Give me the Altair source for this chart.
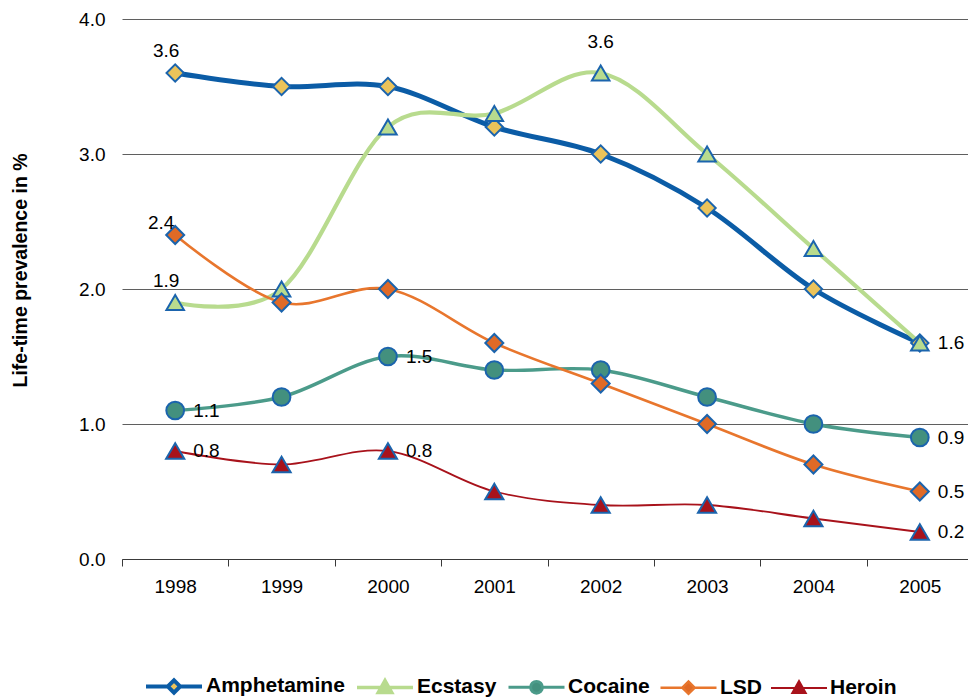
import altair as alt
import pandas as pd

# Life-time prevalence (%) by survey year
years = ["1998", "1999", "2000", "2001", "2002", "2003", "2004", "2005"]
series_names = ["Amphetamine", "Ecstasy", "Cocaine", "LSD", "Heroin"]
amphetamine = [3.6, 3.5, 3.5, 3.2, 3.0, 2.6, 2.0, 1.6]
ecstasy = [1.9, 2.0, 3.2, 3.3, 3.6, 3.0, 2.3, 1.6]
cocaine = [1.1, 1.2, 1.5, 1.4, 1.4, 1.2, 1.0, 0.9]
lsd = [2.4, 1.9, 2.0, 1.6, 1.3, 1.0, 0.7, 0.5]
heroin = [0.8, 0.7, 0.8, 0.5, 0.4, 0.4, 0.3, 0.2]
y_ticks = [0, 1, 2, 3, 4]

# Points that carry a value label, grouped by where the label sits
labels_right = [("Cocaine", "1998"), ("Heroin", "1998"), ("Cocaine", "2000"),
                ("Heroin", "2000"), ("Ecstasy", "2005"), ("Cocaine", "2005"),
                ("LSD", "2005"), ("Heroin", "2005")]
labels_upper_left = [("Amphetamine", "1998"), ("Ecstasy", "1998")]
labels_left = [("LSD", "1998")]
labels_top = [("Ecstasy", "2002")]

# Styling
FONT = "Liberation Sans"
line_colors = ["#0B5CA6", "#B8DB8E", "#4B9B8A", "#E8762D", "#A8121B"]
marker_fills = ["#EBC35A", "#B8DB8E", "#43907E", "#E06A26", "#A8121B"]
marker_shapes = ["diamond", "triangle-up", "circle", "diamond", "triangle-up"]
marker_sizes = [300, 330, 290, 300, 330]
line_widths = [5, 1.8, 2.5, 2.5, 2.5]
legend_widths = [4, 2, 2.5, 2.5, 2.5]
marker_edge = "#1B64AD"

# Legend glyphs: a line segment with the series marker in the middle
legend_paths = [
    "M-1,0H-0.22M0.22,0H1M-0.22,0L0,-0.22L0.22,0L0,0.22Z",
    "M-1,0H-0.15M0.15,0H1M0,-0.25L0.24,0.18H-0.24Z",
    "M-1,0H-0.21M0.21,0H1M-0.21,0A0.21,0.21 0 1,0 0.21,0A0.21,0.21 0 1,0 -0.21,0Z",
    "M-1,0H-0.22M0.22,0H1M-0.22,0L0,-0.22L0.22,0L0,0.22Z",
    "M-1,0H-0.15M0.15,0H1M0,-0.25L0.24,0.18H-0.24Z",
]

values_by_series = [amphetamine, ecstasy, cocaine, lsd, heroin]
df = pd.DataFrame(
    [
        {"series": name, "year": yr, "value": v}
        for name, vals in zip(series_names, values_by_series)
        for yr, v in zip(years, vals)
    ]
)

x_enc = alt.X(
    "year:O",
    scale=alt.Scale(type="band", domain=years, range=[0, 851],
                    paddingInner=0, paddingOuter=0),
    axis=alt.Axis(
        title=None, tickBand="extent", grid=False, labelAngle=0,
        labelFont=FONT, labelFontSize=19, labelColor="black", labelPadding=11,
        domainColor="#3a3a3a", tickColor="#3a3a3a", tickSize=7, domainWidth=1,
    ),
)
y_enc = alt.Y(
    "value:Q",
    scale=alt.Scale(domain=[0, 4], nice=False, zero=True),
    axis=alt.Axis(
        values=y_ticks, format=".1f", domain=False, ticks=False, grid=True,
        gridColor="#5f5f5f", gridWidth=1,
        labelFont=FONT, labelFontSize=19, labelColor="black", labelPadding=17,
        title="Life-time prevalence in %", titleFont=FONT, titleFontSize=19.5,
        titleFontWeight="bold", titleColor="black", titleX=-102, titleY=251,
        titleBaseline="middle", titleAlign="center",
    ),
)

base = alt.Chart(df)

lines = base.mark_line(interpolate="cardinal", tension=0).encode(
    x=x_enc,
    y=y_enc,
    stroke=alt.Stroke("series:N", scale=alt.Scale(domain=series_names, range=line_colors), legend=None),
    strokeWidth=alt.StrokeWidth("series:N", scale=alt.Scale(domain=series_names, range=line_widths), legend=None),
    detail="series:N",
)

points = base.mark_point(filled=True, opacity=1, stroke=marker_edge, strokeWidth=2).encode(
    x=x_enc,
    y=y_enc,
    fill=alt.Fill("series:N", scale=alt.Scale(domain=series_names, range=marker_fills), legend=None),
    shape=alt.Shape("series:N", scale=alt.Scale(domain=series_names, range=marker_shapes), legend=None),
    size=alt.Size("series:N", scale=alt.Scale(domain=series_names, range=marker_sizes), legend=None),
)


def value_labels(pairs, **mark_kw):
    keys = pd.DataFrame(pairs, columns=["series", "year"])
    sub = df.merge(keys, on=["series", "year"])
    return alt.Chart(sub).mark_text(
        font=FONT, fontSize=19, color="black", baseline="middle", **mark_kw
    ).encode(x=x_enc, y=y_enc, text=alt.Text("value:Q", format=".1f"))


text_right = value_labels(labels_right, align="left", dx=18)
text_upper_left = value_labels(labels_upper_left, align="center", dx=-9, dy=-22)
text_left = value_labels(labels_left, align="center", dx=-14, dy=-12)
text_top = value_labels(labels_top, align="center", dy=-31)

legend_spec = alt.Legend(
    title=None, orient="none", legendX=22, legendY=637, direction="horizontal",
    labelFont=FONT, labelFontSize=21, labelFontWeight="bold", labelColor="black",
    symbolSize=3136, symbolOpacity=1, labelOffset=2, columnPadding=5,
)

legend_layer = base.transform_filter("false").mark_point(filled=True, opacity=1, size=3136).encode(
    x=x_enc,
    y=y_enc,
    stroke=alt.Stroke("series:N", scale=alt.Scale(domain=series_names, range=line_colors), legend=legend_spec),
    fill=alt.Fill("series:N", scale=alt.Scale(domain=series_names, range=marker_fills), legend=legend_spec),
    shape=alt.Shape("series:N", scale=alt.Scale(domain=series_names, range=legend_paths), legend=legend_spec),
    strokeWidth=alt.StrokeWidth("series:N", scale=alt.Scale(domain=series_names, range=legend_widths), legend=legend_spec),
)

chart = (
    alt.layer(lines, points, text_right, text_upper_left, text_left, text_top, legend_layer)
    .resolve_scale(stroke="independent", fill="independent", shape="independent",
                   strokeWidth="independent", size="independent")
    .properties(
        width=846, height=540, autosize="none",
        padding={"left": 122, "top": 19, "right": 0, "bottom": 138},
        background="white",
    )
    .configure_view(stroke=None)
)

chart.save("out.html", embed_options={"renderer": "svg", "actions": False})
